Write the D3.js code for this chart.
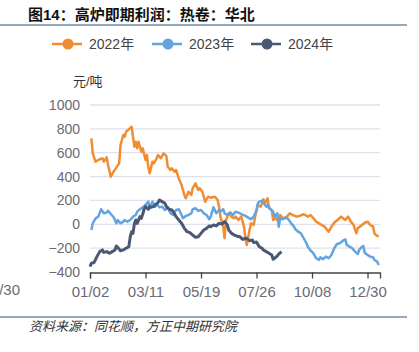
<!DOCTYPE html>
<html><head><meta charset="utf-8">
<script src="https://cdn.jsdelivr.net/npm/d3@7/dist/d3.min.js"></script>
<style>
html,body{margin:0;padding:0;background:#fff;}
svg{display:block;font-family:"Liberation Sans","Noto Sans CJK SC",sans-serif;}
</style></head>
<body>
<script>
// ---- data ----
const title = "图14：高炉即期利润：热卷：华北";
const unitLabel = "元/吨";
const sourceText = "资料来源：同花顺，方正中期研究院";
const seriesNames = ["2022年", "2023年", "2024年"];
const xTickIdx = [0, 40, 80, 120, 160, 200];
const xTickLabels = ["01/02", "03/11", "05/19", "07/26", "10/08", "12/30"];
const yTicks = [-400, -200, 0, 200, 400, 600, 800, 1000];

const idx2022 = [1,2,4,7,9,10,12,13,15,17,21,22,24,25,26,28,30,31,32,33,34,35,37,38,40,41,42,43,45,46,48,49,51,53,55,56,58,59,61,62,64,66,68,69,71,73,74,76,78,79,81,83,85,87,90,92,93,94,96,97,98,100,102,104,105,107,109,111,112,113,115,116,118,119,121,123,125,126,128,129,131,132,134,136,137,139,142,144,146,149,151,154,157,159,161,163,165,167,169,172,174,176,179,181,184,186,188,190,192,193,196,198,200,202,204,205,206,208];
const val2022 = [721,595,525,545,553,525,561,497,399,441,511,665,749,734,776,796,818,734,650,692,637,692,608,637,539,581,483,427,525,511,553,581,553,595,573,483,455,469,441,455,385,329,246,218,273,246,302,344,288,302,273,189,231,223,231,204,148,64,-20,-117,36,92,64,50,64,36,64,-20,-117,-173,-48,8,-6,64,162,148,210,176,218,134,120,36,50,22,78,50,64,92,78,64,70,84,64,78,50,22,8,-6,-20,-62,-20,13,42,64,36,64,22,-6,-75,-34,-6,13,22,-6,-20,-75,-90,-104];

const idx2023 = [1,2,4,6,8,10,12,13,15,17,19,20,22,24,25,27,29,31,33,34,36,38,40,42,43,45,47,48,50,52,54,56,58,60,62,64,66,67,69,71,73,74,76,78,80,82,84,86,87,89,91,93,94,96,97,99,101,103,105,107,109,112,114,116,118,120,121,122,124,125,127,128,130,132,133,135,136,137,139,141,143,145,147,148,150,152,154,156,157,159,161,163,165,166,168,170,172,174,176,178,180,183,184,185,187,189,191,193,194,196,197,198,200,202,204,205,207,208];
const val2023 = [-48,8,50,64,126,92,98,114,86,59,8,36,8,22,36,22,36,64,78,106,126,142,162,190,134,190,148,172,142,148,120,142,92,78,120,126,78,50,70,78,92,126,134,114,120,92,78,42,64,142,92,120,106,126,92,78,100,78,106,98,86,70,56,42,64,120,176,190,198,181,148,162,126,106,64,92,-20,50,42,56,42,8,-20,-42,-62,-76,-117,-159,-188,-221,-243,-285,-299,-277,-292,-271,-285,-257,-201,-165,-159,-132,-126,-173,-187,-201,-229,-249,-215,-188,-182,-238,-257,-271,-277,-299,-313,-341];

const idx2024 = [0,1,3,5,7,9,10,12,14,16,18,19,21,22,24,26,28,29,30,31,32,33,34,36,37,38,39,40,42,43,44,46,47,49,50,52,54,55,57,59,61,62,64,66,68,70,72,74,76,78,80,82,84,86,87,89,91,93,95,97,99,100,102,104,106,108,110,113,115,117,118,120,122,124,125,127,129,131,132,133,135,136,138];
const val2024 = [-355,-327,-320,-271,-229,-215,-236,-229,-243,-229,-215,-182,-208,-222,-215,-201,-187,-104,-62,-76,8,36,8,64,50,86,126,148,126,148,142,150,162,181,204,190,176,150,126,120,86,64,36,8,-34,-62,-70,-90,-109,-104,-76,-48,-34,-14,-20,-6,-14,8,2,22,-6,-48,-76,-90,-100,-104,-126,-117,-138,-132,-154,-148,-188,-201,-215,-229,-243,-257,-293,-285,-264,-250,-229];

const colors = ["#f28c30", "#64a4e0", "#4a5874"];

// ---- drawing ----
const W = 419, H = 352;
const svg = d3.select("body").append("svg").attr("width", W).attr("height", H);

const x = d3.scaleLinear().domain([0, 209]).range([90, 380]);
const y = d3.scaleLinear().domain([-400, 1000]).range([272, 105]);

// title
svg.append("text").attr("x", 28).attr("y", 19.5).attr("font-size", 15).attr("font-weight", "bold")
  .attr("fill", "#111").text(title);
svg.append("line").attr("x1", 0).attr("x2", 407).attr("y1", 25).attr("y2", 25)
  .attr("stroke", "#2a5578").attr("stroke-width", 1.2);

// legend
const legX = [52, 152, 251];
seriesNames.forEach((n, i) => {
  const g = svg.append("g").attr("transform", `translate(${legX[i]},44)`);
  g.append("line").attr("x1", 0).attr("x2", 30).attr("stroke", colors[i]).attr("stroke-width", 2.5);
  g.append("circle").attr("cx", 16).attr("r", 5.5).attr("fill", colors[i]);
  g.append("text").attr("x", 37).attr("y", 5).attr("font-size", 14).attr("fill", "#444").text(n);
});

// unit label
svg.append("text").attr("x", 73).attr("y", 86).attr("font-size", 13).attr("fill", "#333").text(unitLabel);

// gridlines
svg.append("g").selectAll("line").data(yTicks.filter(v => v > -400)).join("line")
  .attr("x1", 90).attr("x2", 380).attr("y1", d => y(d)).attr("y2", d => y(d))
  .attr("stroke", "#dfe2ec").attr("stroke-width", 1.3);

// y labels
svg.append("g").selectAll("text").data(yTicks).join("text")
  .attr("x", 80).attr("y", d => y(d) + 5).attr("text-anchor", "end")
  .attr("font-size", 14).attr("fill", "#6a6a72")
  .text(d => d < 0 ? "\u2212" + Math.abs(d) : d);

// lines
const line = d3.line().x(d => x(d[0])).y(d => y(d[1]));
const series = [[idx2022, val2022], [idx2023, val2023], [idx2024, val2024]];
series.forEach((s, i) => {
  const pts = s[0].map((k, j) => [k, s[1][j]]);
  svg.append("path").datum(pts).attr("d", line).attr("fill", "none")
    .attr("stroke", colors[i]).attr("stroke-width", i === 2 ? 3 : 2.5)
    .attr("stroke-linejoin", "round");
});

// x axis
const xAxis = d3.axisBottom(x).tickValues(xTickIdx)
  .tickFormat((d, i) => xTickLabels[i]).tickSize(6).tickSizeOuter(6);
const gx = svg.append("g").attr("transform", "translate(0,272.5)").call(xAxis);
gx.select(".domain").attr("stroke", "#444").attr("stroke-width", 1.3);
gx.selectAll(".tick line").attr("stroke", "#444").attr("stroke-width", 1.3);
gx.selectAll(".tick text").attr("font-size", 15).attr("fill", "#6a6a72")
  .attr("font-family", "Liberation Sans, sans-serif").attr("dy", "1.0em");

// neighbouring-chart fragment on the left edge (cut off, as in the reference)
svg.append("text").attr("x", 20).attr("y", 295).attr("text-anchor", "end")
  .attr("font-size", 15).attr("fill", "#6a6a72").text("12/30");

// bottom rule and source
svg.append("line").attr("x1", 0).attr("x2", 407).attr("y1", 317).attr("y2", 317)
  .attr("stroke", "#2a5578").attr("stroke-width", 1.2);
svg.append("text").attr("x", 29).attr("y", 331).attr("font-size", 13).attr("font-style", "italic")
  .attr("fill", "#333").text(sourceText);
</script>
</body></html>
